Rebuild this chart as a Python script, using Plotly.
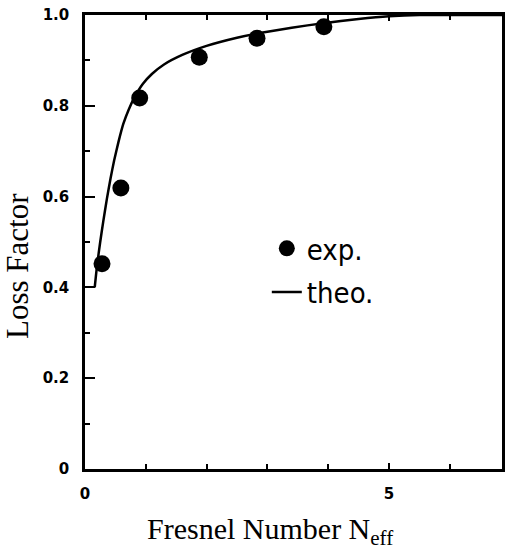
import plotly.graph_objects as go

# Experimental points
exp_x = [0.28, 0.59, 0.90, 1.88, 2.83, 3.93]
exp_y = [0.452, 0.619, 0.817, 0.907, 0.949, 0.974]

# Theoretical curve
theo_x = [0.16, 0.20, 0.25, 0.30, 0.36, 0.42, 0.48, 0.55, 0.63, 0.72, 0.82, 0.95,
          1.10, 1.30, 1.60, 2.00, 2.50, 2.90, 3.40, 3.92, 4.50, 5.00, 5.50, 6.86]
theo_y = [0.40, 0.45, 0.50, 0.545, 0.595, 0.64, 0.68, 0.72, 0.76, 0.792, 0.82, 0.848,
          0.870, 0.891, 0.912, 0.932, 0.950, 0.961, 0.972, 0.982, 0.991, 0.997, 1.0, 1.0]

y_tickvals = [0, 0.2, 0.4, 0.6, 0.8, 1.0]
y_ticktext = ["0", "0.2", "0.4", "0.6", "0.8", "1.0"]
x_tickvals = [0, 5]
x_ticktext = ["0", "5"]

fig = go.Figure()
fig.add_trace(go.Scatter(
    x=exp_x, y=exp_y, mode="markers", name="exp.",
    marker=dict(color="black", size=17, symbol="circle"),
    legendgroup="a",
))
fig.add_trace(go.Scatter(
    x=theo_x, y=theo_y, mode="lines", name="theo.",
    line=dict(color="black", width=2.5, shape="spline", smoothing=0.5),
    legendgroup="b",
))

tickfont = dict(family="DejaVu Sans", size=15, color="black", weight="bold")

fig.update_layout(
    width=506, height=552,
    margin=dict(l=85, r=4, t=15, b=83),
    paper_bgcolor="white", plot_bgcolor="white",
    showlegend=True,
    legend=dict(
        x=0.436, y=0.542, xanchor="left", yanchor="top",
        font=dict(family="DejaVu Sans Condensed, DejaVu Sans", size=29, color="black"),
        bgcolor="rgba(0,0,0,0)", borderwidth=0,
        traceorder="grouped", tracegroupgap=3,
    ),
    xaxis=dict(
        range=[0, 6.86], showgrid=False, zeroline=False,
        showline=True, linecolor="black", linewidth=2.5, mirror="ticks",
        ticks="inside", ticklen=6, tickwidth=1.5, tickcolor="black",
        tickvals=x_tickvals, ticktext=x_ticktext, tickfont=tickfont,
        ticklabelstandoff=9, automargin=False,
        minor=dict(dtick=1, ticks="inside", ticklen=5, tickwidth=1.5, tickcolor="black", showgrid=False),
    ),
    yaxis=dict(
        range=[0, 1.0], showgrid=False, zeroline=False,
        showline=True, linecolor="black", linewidth=2.5, mirror=True,
        ticks="inside", ticklen=10, tickwidth=1.5, tickcolor="black",
        tickvals=y_tickvals, ticktext=y_ticktext, tickfont=tickfont,
        ticklabelstandoff=10, automargin=False,
        minor=dict(dtick=0.1, ticks="inside", ticklen=5, tickwidth=1.5, tickcolor="black", showgrid=False),
    ),
    annotations=[
        dict(text="Fresnel Number N<sub>eff</sub>", xref="paper", yref="paper",
             x=(270 - 85) / 417, y=-(531 - 469) / 454, xanchor="center", yanchor="middle",
             showarrow=False, font=dict(family="Liberation Serif", size=30, color="black")),
        dict(text="Loss Factor", xref="paper", yref="paper",
             x=-(85 - 17) / 417, y=(469 - 266) / 454, xanchor="center", yanchor="middle",
             textangle=-90, showarrow=False,
             font=dict(family="Liberation Serif", size=31, color="black")),
    ],
)

fig.write_html("out.html", config={"displayModeBar": False},
               post_script="document.body.style.margin='0px';")
